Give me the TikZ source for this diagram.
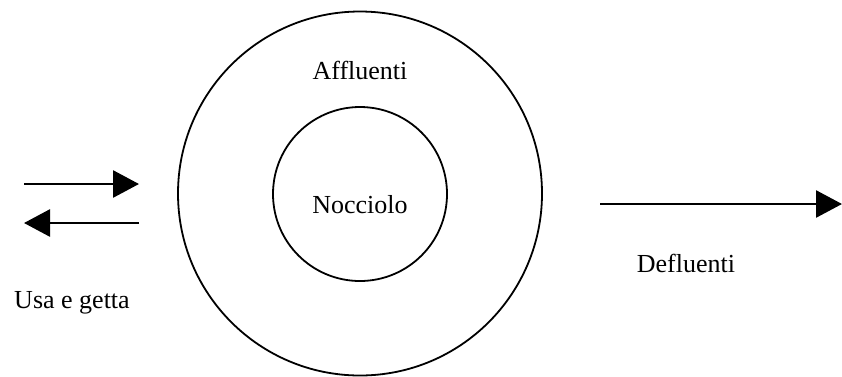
\documentclass[tikz,border=0pt]{standalone}
\usepackage{fontspec}
\setmainfont{Liberation Serif}
\usetikzlibrary{arrows.meta}
\begin{document}
\begin{tikzpicture}[x=1pt,y=-1pt,
  ring/.style={circle,draw,line width=1.8pt,inner sep=0pt},
  lbl/.style={anchor=base,inner sep=0pt,font=\fontsize{26}{31}\selectfont},
  flow/.style={line width=2.7pt,-{Triangle[length=26pt,width=27pt]}}]
\useasboundingbox (0,0) rectangle (842,376);
\node[ring,minimum size=364pt] (outer) at (360,193.5) {};
\node[ring,minimum size=174pt] (inner) at (360,194) {};
\node[lbl] (aff) at (360,79) {Affluenti};
\node[lbl] (noc) at (360,213) {Nocciolo};
\node[lbl] (def) at (686,272) {Defluenti};
\node[lbl] (usa) at (72,308) {Usa e getta};
\coordinate (a1s) at (24,184);
\coordinate (a1e) at (139,184);
\coordinate (a2s) at (139,223);
\coordinate (a2e) at (24,223);
\coordinate (a3s) at (600,204);
\coordinate (a3e) at (842,204);
\draw[flow] (a1s) -- (a1e);
\draw[flow] (a2s) -- (a2e);
\draw[flow] (a3s) -- (a3e);
\end{tikzpicture}
\end{document}
